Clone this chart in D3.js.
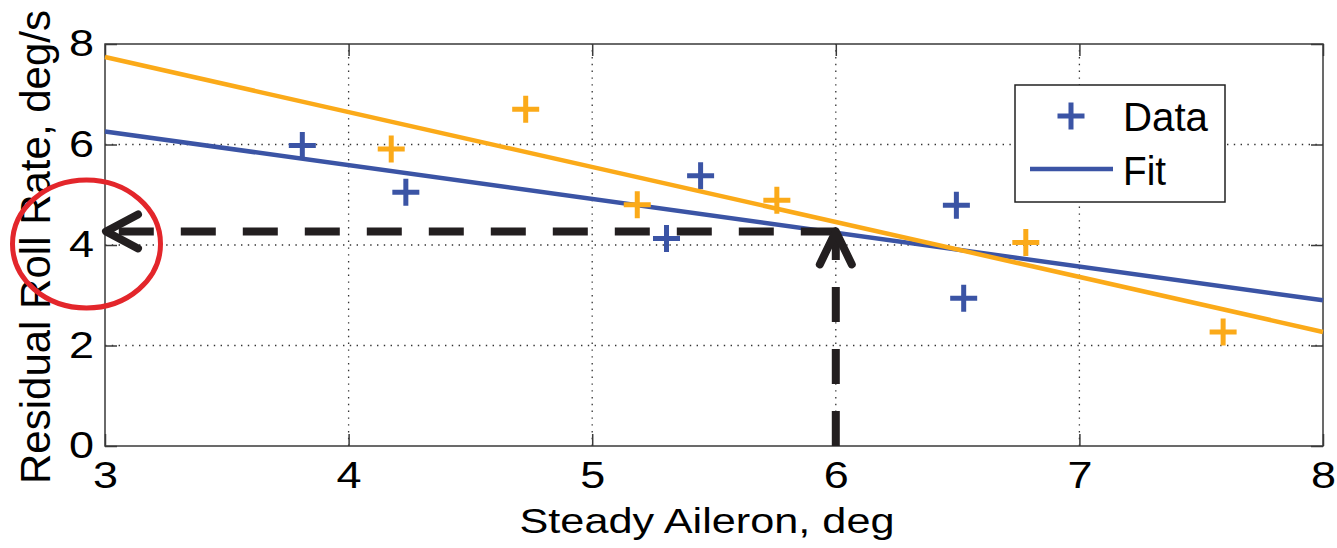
<!DOCTYPE html>
<html>
<head>
<meta charset="utf-8">
<script src="https://cdn.jsdelivr.net/npm/d3@7"></script>
<style>
  html, body { margin: 0; padding: 0; background: #fff; }
  svg { display: block; font-family: "Liberation Sans", Arial, Helvetica, sans-serif; }
</style>
</head>
<body>
<svg id="chart" width="1337" height="548"></svg>
<script>
// ---- data ----
const xTicks = [3, 4, 5, 6, 7, 8];
const yTicks = [0, 2, 4, 6, 8];
const blueX = [3.81, 4.235, 5.305, 5.445, 6.495, 6.525];
const blueY = [5.98, 5.05, 4.13, 5.38, 4.79, 2.94];
const orangeX = [4.175, 4.727, 5.185, 5.758, 6.78, 7.59];
const orangeY = [5.91, 6.70, 4.80, 4.89, 4.05, 2.27];
const blueFitX = [3, 8];
const blueFitY = [6.26, 2.90];
const orangeFitX = [3, 8];
const orangeFitY = [7.74, 2.27];
const arrowAt = [6, 4.27];          // aileron, roll rate read-off point
const legendLabels = ["Data", "Fit"];
const xLabel = "Steady Aileron, deg";
const yLabel = "Residual Roll Rate, deg/s";

const BLUE = "#3B54A5", ORANGE = "#FBAA19", BLACK = "#231F20", RED = "#E3262B";

const svg = d3.select("#chart");
const x = d3.scaleLinear().domain([3, 8]).range([105, 1323]);
const y = d3.scaleLinear().domain([0, 8]).range([446, 44]);

// grid
const grid = svg.append("g").attr("stroke", "#333").attr("stroke-width", 1.3)
  .attr("stroke-dasharray", "1.4,5.4");
xTicks.slice(1, -1).forEach(v => grid.append("line")
  .attr("x1", x(v)).attr("x2", x(v)).attr("y1", y(0)).attr("y2", y(8)));
yTicks.slice(1, -1).forEach(v => grid.append("line")
  .attr("x1", x(3)).attr("x2", x(8)).attr("y1", y(v)).attr("y2", y(v)));

// axes (ticks inward on all four sides)
function styleAxis(g) {
  g.select(".domain").remove();
  g.selectAll(".tick line").attr("stroke", "#3a3a3a").attr("stroke-width", 1.5);
  g.selectAll(".tick text").attr("fill", "#000").attr("font-size", 37)
    .attr("font-family", "Liberation Sans, Arial, sans-serif");
}
svg.append("g").attr("transform", `translate(0,${y(0)})`)
  .call(d3.axisBottom(x).tickValues(xTicks).tickSize(-12).tickPadding(16).tickFormat(d3.format("d")))
  .call(styleAxis)
  .selectAll(".tick text").attr("textLength", 25).attr("lengthAdjust", "spacingAndGlyphs");
svg.append("g").attr("transform", `translate(0,${y(8)})`)
  .call(d3.axisTop(x).tickValues(xTicks).tickSize(-12).tickFormat(""))
  .call(styleAxis);
svg.append("g").attr("transform", `translate(${x(3)},0)`)
  .call(d3.axisLeft(y).tickValues(yTicks).tickSize(-12).tickPadding(11).tickFormat(d3.format("d")))
  .call(styleAxis)
  .selectAll(".tick text").attr("textLength", 25).attr("lengthAdjust", "spacingAndGlyphs");
svg.append("g").attr("transform", `translate(${x(8)},0)`)
  .call(d3.axisRight(y).tickValues(yTicks).tickSize(-12).tickFormat(""))
  .call(styleAxis);

svg.append("rect").attr("x", x(3)).attr("y", y(8))
  .attr("width", x(8) - x(3)).attr("height", y(0) - y(8))
  .attr("fill", "none").attr("stroke", "#3a3a3a").attr("stroke-width", 1.5);

// axis titles
svg.append("text").attr("x", 707).attr("y", 533).attr("text-anchor", "middle")
  .attr("font-size", 35).attr("textLength", 375).attr("lengthAdjust", "spacingAndGlyphs")
  .text(xLabel);
svg.append("text").attr("transform", "translate(50,247) rotate(-90)")
  .attr("text-anchor", "middle").attr("font-size", 42)
  .attr("textLength", 474).attr("lengthAdjust", "spacingAndGlyphs")
  .text(yLabel);

// series
const line = d3.line();
const plus = (cx, cy, s) => `M${cx - s},${cy}H${cx + s}M${cx},${cy - s}V${cy + s}`;

function drawSeries(xs, ys, fx, fy, color) {
  svg.append("path")
    .attr("d", line(fx.map((v, i) => [x(v), y(fy[i])])))
    .attr("fill", "none").attr("stroke", color).attr("stroke-width", 4.5);
  svg.append("g").selectAll("path").data(xs.map((v, i) => [v, ys[i]])).join("path")
    .attr("d", d => plus(x(d[0]), y(d[1]), 13.5))
    .attr("stroke", color).attr("stroke-width", 5).attr("fill", "none");
}
drawSeries(blueX, blueY, blueFitX, blueFitY, BLUE);
drawSeries(orangeX, orangeY, orangeFitX, orangeFitY, ORANGE);

// legend
const lg = svg.append("g");
lg.append("rect").attr("x", 1015).attr("y", 85).attr("width", 210).attr("height", 117)
  .attr("fill", "#fff").attr("stroke", "#222").attr("stroke-width", 1.5);
lg.append("path").attr("d", plus(1071, 116, 13.5)).attr("stroke", BLUE).attr("stroke-width", 5);
lg.append("line").attr("x1", 1030).attr("x2", 1113).attr("y1", 169).attr("y2", 169)
  .attr("stroke", BLUE).attr("stroke-width", 4.5);
lg.append("text").attr("x", 1123).attr("y", 131).attr("font-size", 40)
  .attr("textLength", 85).attr("lengthAdjust", "spacingAndGlyphs").text(legendLabels[0]);
lg.append("text").attr("x", 1123).attr("y", 185).attr("font-size", 40)
  .attr("textLength", 43).attr("lengthAdjust", "spacingAndGlyphs").text(legendLabels[1]);

// dashed read-off arrows
const ax = x(arrowAt[0]), ay = y(arrowAt[1]);
const ann = svg.append("g").attr("stroke", BLACK).attr("stroke-width", 8).attr("fill", "none");
ann.append("path").attr("d", `M${ax},${ay}H${x(3)}`).attr("stroke-dasharray", "35,27");
ann.append("path").attr("d", `M${ax},${y(0)}V${ay}`).attr("stroke-dasharray", "35,27");
ann.append("path").attr("d", `M${x(3) + 33},${ay - 17}L${x(3) + 1},${ay}L${x(3) + 33},${ay + 17}`)
  .attr("stroke-linecap", "round").attr("stroke-linejoin", "round");
ann.append("path").attr("d", `M${ax - 16},${ay + 33}L${ax},${ay}L${ax + 16},${ay + 33}`)
  .attr("stroke-linecap", "round").attr("stroke-linejoin", "round");

// red highlight ellipse
svg.append("ellipse").attr("cx", 86.5).attr("cy", 244).attr("rx", 74).attr("ry", 64)
  .attr("fill", "none").attr("stroke", RED).attr("stroke-width", 5);
</script>
</body>
</html>
